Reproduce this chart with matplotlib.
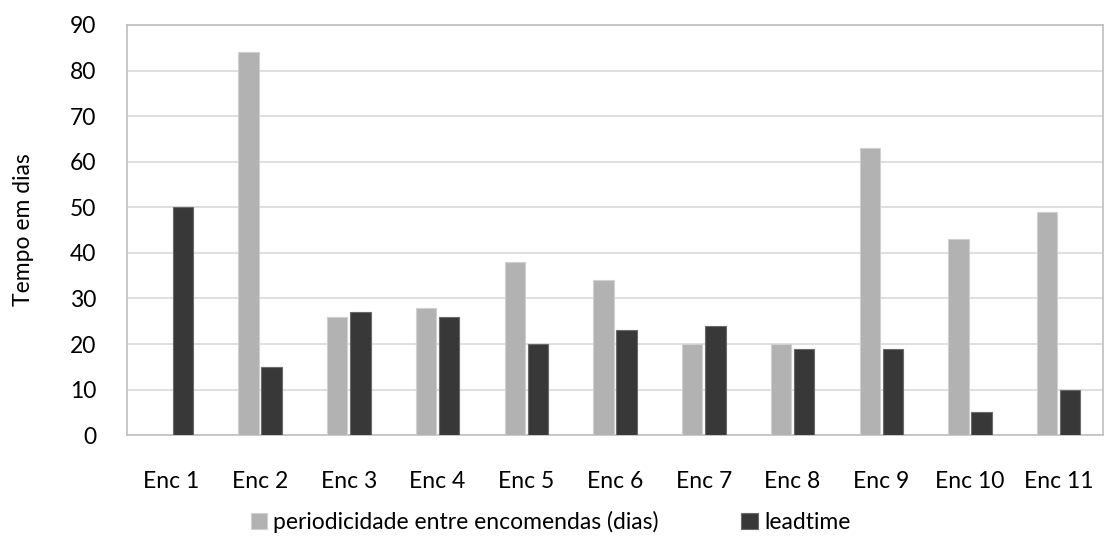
import numpy as np
import matplotlib.pyplot as plt

plt.rcParams['font.family'] = ['Lato', 'DejaVu Sans']

categories = ['Enc 1', 'Enc 2', 'Enc 3', 'Enc 4', 'Enc 5', 'Enc 6',
              'Enc 7', 'Enc 8', 'Enc 9', 'Enc 10', 'Enc 11']
periodicidade = [0, 84, 26, 28, 38, 34, 20, 20, 63, 43, 49]
leadtime = [50, 15, 27, 26, 20, 23, 24, 19, 19, 5, 10]
yticks = list(range(0, 91, 10))

fig = plt.figure(figsize=(11.08, 5.42), dpi=100)
ax = fig.add_axes([0.1146, 0.197, 0.881, 0.757])

x = np.arange(len(categories))
w = 0.23
ax.bar(x - 0.13, periodicidade, w, color='#b2b2b2', edgecolor='#d0d0d0',
       linewidth=0.8, label='periodicidade entre encomendas (dias)', zorder=3)
ax.bar(x + 0.13, leadtime, w, color='#383838', edgecolor='#6a6a6a',
       linewidth=0.8, label='leadtime', zorder=3)

ax.set_xlim(-0.5, len(categories) - 0.5)
ax.set_ylim(0, 90)
ax.set_yticks(yticks)
ax.set_xticks(x)
ax.set_xticklabels(categories)
ax.tick_params(axis='both', length=0, labelsize=16.5, colors='black')
ax.tick_params(axis='x', pad=26)
ax.tick_params(axis='y', pad=22)
ax.grid(axis='y', color='#d9d9d9', linewidth=1.2, zorder=0)
for s in ax.spines.values():
    s.set_color('#bfbfbf')
    s.set_linewidth(1.2)
ax.set_ylabel('Tempo em dias', fontsize=16.5, labelpad=26)

fig.legend(loc='lower center', bbox_to_anchor=(0.497, -0.022), ncol=2,
           frameon=False, fontsize=16.5, handlelength=0.7, handleheight=0.7,
           handletextpad=0.3, columnspacing=3.6)

plt.savefig('out.png')
